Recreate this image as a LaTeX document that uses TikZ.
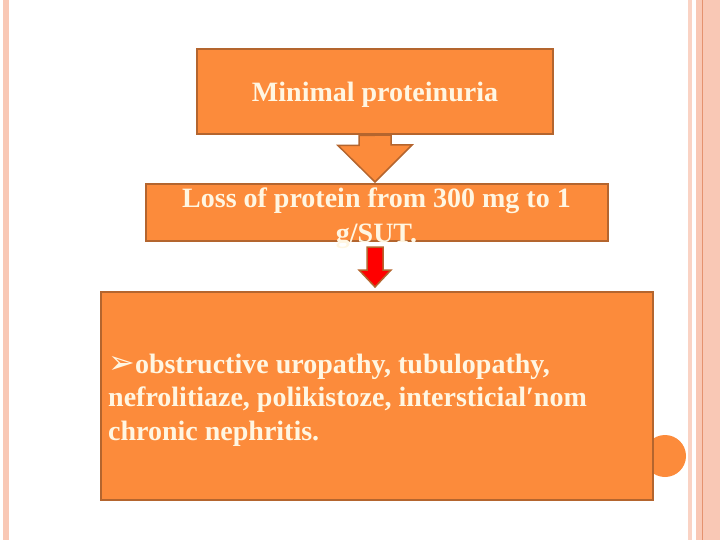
\documentclass[tikz,border=0pt]{standalone}
\usepackage{fontspec}
\setmainfont{Liberation Serif}
\newfontfamily\symfont{DejaVu Sans}
\usetikzlibrary{positioning}
\usetikzlibrary{calc}
\definecolor{slideorange}{HTML}{FC8B3B}
\definecolor{slideedge}{HTML}{B4652E}
\definecolor{slidetext}{HTML}{FFF6E2}
\definecolor{stripe}{HTML}{F9C8B5}
\definecolor{stripedark}{HTML}{E5926F}
\tikzset{box/.style={draw=slideedge, line width=2pt, fill=slideorange}}
\tikzset{boxtext/.style={text=slidetext, inner sep=0pt, font=\bfseries\fontsize{28}{35}\selectfont}}
\tikzset{redarrow/.style={draw=slideedge, line width=1.5pt, fill=red}}

\begin{document}
\begin{tikzpicture}[x=1pt,y=-1pt]
\useasboundingbox (0,0) rectangle (720,540);
% side stripes of the slide
\fill[stripe] (3,0) rectangle (9,540);
\fill[stripe!80!white] (688,0) rectangle (692,540);
\fill[stripe] (696,0) rectangle (720,540);
\draw[stripedark, line width=1pt] (702.5,0) -- (702.5,540);
\node (dot) [circle, fill=slideorange, minimum size=42pt, inner sep=0pt] at (665,456) {};
\node (intro) [box, minimum width=356pt, minimum height=85pt, text depth=0pt, boxtext] at (375,92) {Minimal proteinuria};
\node (loss) [box, below=47.5pt of intro, xshift=1.5pt, minimum width=462pt, minimum height=57pt] {};
\node (cause) [box, below=49pt of loss, minimum width=552pt, minimum height=208pt] {};
\draw[box, line width=1.5pt] (intro.south) ++(-16,0) -- ++(0,10) -- ++(-21,0) -- ($(intro.south |- loss.north)+(0,-1)$) -- ++(37,-37) -- ++(-21,0) -- ++(0,-10) -- cycle;
\coordinate (s2) at ($(intro.south |- loss.south)+(0,5)$);
\draw[redarrow] (s2) ++(-8,0) -- ++(0,23) -- ++(-8,0) -- ($(intro.south |- cause.north)+(0,-4)$) -- ++(16,-17) -- ++(-8,0) -- ++(0,-23) -- cycle;
\node (losstext) [boxtext, align=center, anchor=base] at ($(loss.north)+(0,59)$) {Loss of protein from 300 mg to 1\\g/SUT.};
\node (causetext) [boxtext, font=\bfseries\fontsize{28}{33.5}\selectfont, align=left, anchor=base west] at ($(cause.north west)+(8.5,149)$) {{\symfont\fontsize{32}{32}\selectfont ➢}obstructive uropathy, tubulopathy,\\nefrolitiaze, polikistoze, intersticial′nom\\chronic nephritis.};
\end{tikzpicture}
\end{document}
